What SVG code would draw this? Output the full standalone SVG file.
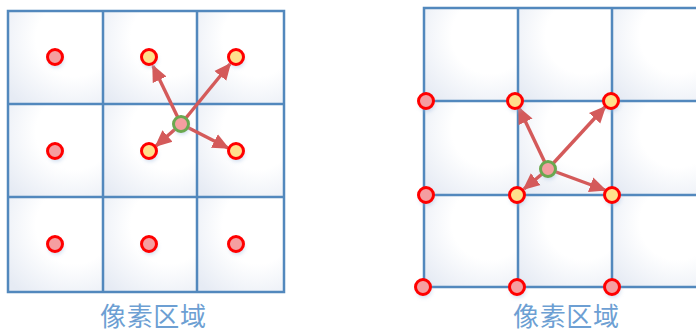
<svg xmlns="http://www.w3.org/2000/svg" width="696" height="333" viewBox="0 0 696 333">
<defs>
<radialGradient id="cellg" cx="0.7" cy="0.3" r="0.9">
<stop offset="0.45" stop-color="#ffffff"/>
<stop offset="1" stop-color="#e6ebf4"/>
</radialGradient>
<filter id="glow" x="-1" y="-1" width="3" height="3">
<feGaussianBlur stdDeviation="2"/>
</filter>
<marker id="ah" viewBox="0 0 10 10" refX="9" refY="5" markerWidth="5" markerHeight="5" orient="auto" markerUnits="strokeWidth">
<path d="M0,0.5 L10,5 L0,9.5 z" fill="#d45a5a"/>
</marker>
</defs>
<style>
.cell{fill:url(#cellg);}
.grid{stroke:#5288bd;stroke-width:2.5;fill:none;}
.dot{stroke:#ff0000;stroke-width:3;fill:#f59ea0;}
.yel{stroke:#ff0000;stroke-width:3;fill:#ffe08c;}
.grn{stroke:#6aa84f;stroke-width:3;fill:#f59ea0;}
.sh{fill:#9ab8de;opacity:0.5;filter:url(#glow);}
.arr{stroke:#d45a5a;stroke-width:3.4;fill:none;marker-end:url(#ah);}
.lbl{font-family:"Noto Sans CJK SC","Noto Sans CJK JP",sans-serif;font-size:26px;fill:#6d9fd3;}
</style>
<g id="left-grid">
<rect class="cell" x="8" y="11" width="95" height="93"/>
<rect class="cell" x="103" y="11" width="94" height="93"/>
<rect class="cell" x="197" y="11" width="87" height="93"/>
<rect class="cell" x="8" y="104" width="95" height="93"/>
<rect class="cell" x="103" y="104" width="94" height="93"/>
<rect class="cell" x="197" y="104" width="87" height="93"/>
<rect class="cell" x="8" y="197" width="95" height="95"/>
<rect class="cell" x="103" y="197" width="94" height="95"/>
<rect class="cell" x="197" y="197" width="87" height="95"/>
<path class="grid" d="M8,11H284V292H8Z M103,11V292 M197,11V292 M8,104H284 M8,197H284"/>
</g>
<g id="right-grid">
<rect class="cell" x="424" y="8" width="94" height="93"/>
<rect class="cell" x="518" y="8" width="94" height="93"/>
<rect class="cell" x="612" y="8" width="94" height="93"/>
<rect class="cell" x="424" y="101" width="94" height="94"/>
<rect class="cell" x="518" y="101" width="94" height="94"/>
<rect class="cell" x="612" y="101" width="94" height="94"/>
<rect class="cell" x="424" y="195" width="94" height="92"/>
<rect class="cell" x="518" y="195" width="94" height="92"/>
<rect class="cell" x="612" y="195" width="94" height="92"/>
<path class="grid" d="M696,8H424V287H696 M518,8V287 M612,8V287 M424,101H696 M424,195H696"/>
</g>
<g id="connectors">
<line class="arr" x1="181" y1="124" x2="153" y2="66"/>
<line class="arr" x1="181" y1="124" x2="230" y2="64"/>
<line class="arr" x1="181" y1="124" x2="156" y2="146"/>
<line class="arr" x1="181" y1="124" x2="228" y2="148"/>
<line class="arr" x1="548" y1="169" x2="519" y2="108"/>
<line class="arr" x1="548" y1="169" x2="605" y2="107"/>
<line class="arr" x1="548" y1="169" x2="524" y2="189"/>
<line class="arr" x1="548" y1="169" x2="605" y2="190"/>
</g>
<g id="left-dots">
<g id="L11"><circle class="sh" cx="56" cy="60" r="7.5"/><circle class="dot" cx="55" cy="57" r="7.5"/></g>
<g id="L12"><circle class="sh" cx="150" cy="60" r="7.5"/><circle class="yel" cx="149" cy="57" r="7.5"/></g>
<g id="L13"><circle class="sh" cx="237" cy="60" r="7.5"/><circle class="yel" cx="236" cy="57" r="7.5"/></g>
<g id="L21"><circle class="sh" cx="56" cy="154" r="7.5"/><circle class="dot" cx="55" cy="151" r="7.5"/></g>
<g id="L22"><circle class="sh" cx="150" cy="154" r="7.5"/><circle class="yel" cx="149" cy="151" r="7.5"/></g>
<g id="L23"><circle class="sh" cx="237" cy="154" r="7.5"/><circle class="yel" cx="236" cy="151" r="7.5"/></g>
<g id="L31"><circle class="sh" cx="56" cy="247" r="7.5"/><circle class="dot" cx="55" cy="244" r="7.5"/></g>
<g id="L32"><circle class="sh" cx="150" cy="247" r="7.5"/><circle class="dot" cx="149" cy="244" r="7.5"/></g>
<g id="L33"><circle class="sh" cx="237" cy="247" r="7.5"/><circle class="dot" cx="236" cy="244" r="7.5"/></g>
<g id="L-center"><circle class="sh" cx="182" cy="127" r="7.5"/><circle class="grn" cx="181" cy="124" r="7.5"/></g>
</g>
<g id="right-dots">
<g id="R11"><circle class="sh" cx="427" cy="104" r="7.5"/><circle class="dot" cx="426" cy="101" r="7.5"/></g>
<g id="R12"><circle class="sh" cx="516" cy="104" r="7.5"/><circle class="yel" cx="515" cy="101" r="7.5"/></g>
<g id="R13"><circle class="sh" cx="612" cy="104" r="7.5"/><circle class="yel" cx="611" cy="101" r="7.5"/></g>
<g id="R21"><circle class="sh" cx="427" cy="198" r="7.5"/><circle class="dot" cx="426" cy="195" r="7.5"/></g>
<g id="R22"><circle class="sh" cx="518" cy="198" r="7.5"/><circle class="yel" cx="517" cy="195" r="7.5"/></g>
<g id="R23"><circle class="sh" cx="613" cy="198" r="7.5"/><circle class="yel" cx="612" cy="195" r="7.5"/></g>
<g id="R31"><circle class="sh" cx="424" cy="290" r="7.5"/><circle class="dot" cx="423" cy="287" r="7.5"/></g>
<g id="R32"><circle class="sh" cx="518" cy="290" r="7.5"/><circle class="dot" cx="517" cy="287" r="7.5"/></g>
<g id="R33"><circle class="sh" cx="613" cy="290" r="7.5"/><circle class="dot" cx="612" cy="287" r="7.5"/></g>
<g id="R-center"><circle class="sh" cx="549" cy="172" r="7.5"/><circle class="grn" cx="548" cy="169" r="7.5"/></g>
</g>
<g id="labels">
<text class="lbl" x="100" y="326" textLength="106">像素区域</text>
<text class="lbl" x="513" y="326" textLength="106">像素区域</text>
</g>
</svg>
